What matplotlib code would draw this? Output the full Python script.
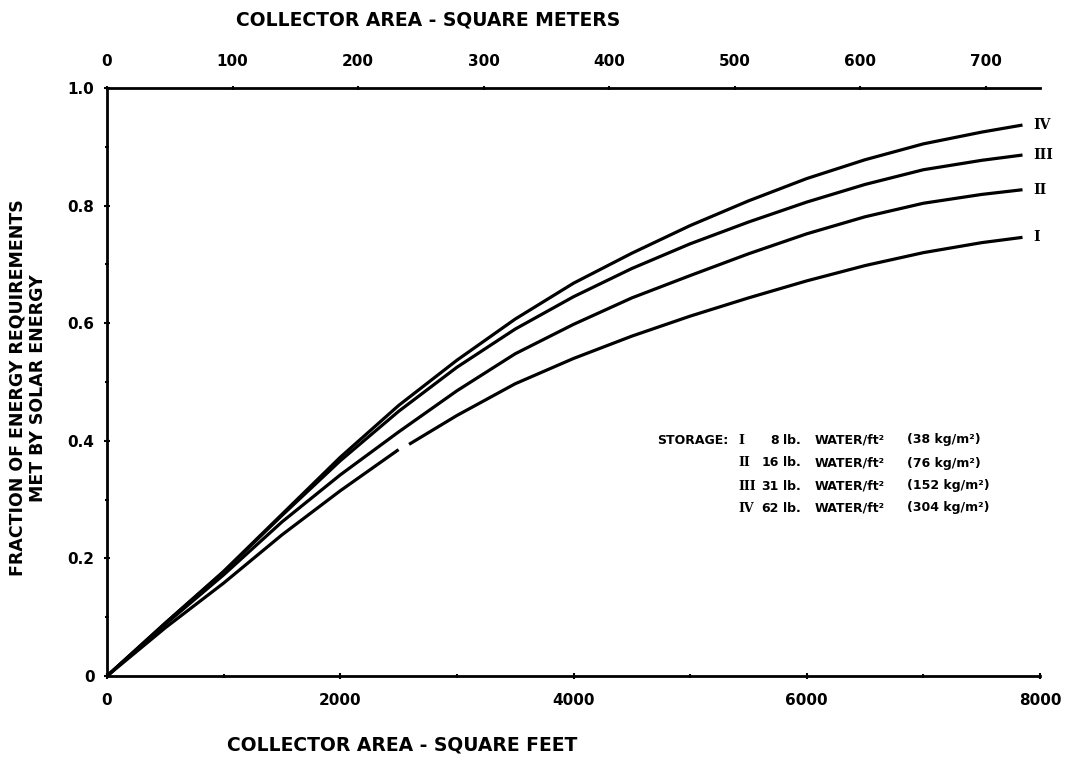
import matplotlib
matplotlib.use("Agg")
import matplotlib.pyplot as plt
import numpy as np

# collector area in square feet
area_ft2 = [0, 500, 1000, 1500, 2000, 2500, 3000, 3500, 4000, 4500,
            5000, 5500, 6000, 6500, 7000, 7500, 7850]

frac_IV = [0, 0.090, 0.178, 0.275, 0.372, 0.460, 0.537, 0.607, 0.668, 0.719,
           0.766, 0.808, 0.846, 0.878, 0.905, 0.925, 0.937]
frac_III = [0, 0.090, 0.177, 0.273, 0.366, 0.450, 0.525, 0.590, 0.645, 0.693,
            0.735, 0.772, 0.806, 0.836, 0.861, 0.877, 0.886]
frac_II = [0, 0.088, 0.172, 0.262, 0.342, 0.415, 0.485, 0.548, 0.598, 0.643,
           0.681, 0.718, 0.752, 0.781, 0.804, 0.819, 0.827]

# curve I has a small break in the original drawing
area_I = [0, 500, 1000, 1500, 2000, 2500, 2520, 2590, 3000, 3500, 4000, 4500,
          5000, 5500, 6000, 6500, 7000, 7500, 7850]
frac_I = [0, 0.082, 0.158, 0.240, 0.315, 0.385, np.nan, 0.394, 0.443, 0.497,
          0.540, 0.578, 0.612, 0.643, 0.672, 0.698, 0.720, 0.737, 0.746]

curve_names = ["IV", "III", "II", "I"]
storage_lb = ["8", "16", "31", "62"]
storage_kg = ["(38 kg/m²)", "(76 kg/m²)", "(152 kg/m²)", "(304 kg/m²)"]
legend_num = ["I", "II", "III", "IV"]

x_ticks = [0, 2000, 4000, 6000, 8000]
y_ticks = [0, 0.2, 0.4, 0.6, 0.8, 1.0]
y_ticklabels = ["0", "0.2", "0.4", "0.6", "0.8", "1.0"]
m2_ticks = [0, 100, 200, 300, 400, 500, 600, 700]

FT2_PER_M2 = 10.764

W, H = 1065, 757
fig = plt.figure(figsize=(W / 100, H / 100), dpi=100)
ax = fig.add_axes([107 / W, 1 - 676 / H, (1040 - 107) / W, (676 - 88) / H])

lw = 2.3
for xs, ys in [(area_ft2, frac_IV), (area_ft2, frac_III), (area_ft2, frac_II), (area_I, frac_I)]:
    ax.plot(xs, ys, color="black", lw=lw, solid_capstyle="butt", solid_joinstyle="round")

ax.set_xlim(0, 8000)
ax.set_ylim(0, 1.0)

for s in ["left", "bottom", "top"]:
    ax.spines[s].set_linewidth(2.0)
ax.spines["right"].set_visible(False)

ax.set_xticks(x_ticks)
ax.set_xticks(np.arange(1000, 8000, 2000), minor=True)
ax.set_yticks(y_ticks)
ax.set_yticklabels(y_ticklabels)
ax.set_yticks(np.arange(0.1, 1.0, 0.2), minor=True)
ax.tick_params(axis="both", which="major", length=4, width=1.5, direction="inout",
               labelsize=11, pad=7)
ax.tick_params(axis="both", which="minor", length=3, width=1.5, direction="inout")
ax.tick_params(axis="x", which="major", pad=10)
for lab in ax.get_xticklabels() + ax.get_yticklabels():
    lab.set_fontweight("bold")

sec = ax.secondary_xaxis("top", functions=(lambda x: x / FT2_PER_M2, lambda m: m * FT2_PER_M2))
sec.set_xticks(m2_ticks)
sec.spines["top"].set_visible(False)
sec.tick_params(length=3, width=1.5, direction="inout", labelsize=11, pad=12)
for lab in sec.get_xticklabels():
    lab.set_fontweight("bold")

fig.text(402 / W, 1 - 745 / H, "COLLECTOR AREA - SQUARE FEET", ha="center", va="center",
         fontsize=13.5, fontweight="bold")
fig.text(428 / W, 1 - 20 / H, "COLLECTOR AREA - SQUARE METERS", ha="center", va="center",
         fontsize=13.5, fontweight="bold")
fig.text(28 / W, 1 - 388 / H, "FRACTION OF ENERGY REQUIREMENTS\nMET BY SOLAR ENERGY",
         ha="center", va="center", rotation=90, fontsize=12.5, fontweight="bold",
         linespacing=1.2, multialignment="center")

# labels at curve ends
end_vals = [frac_IV[-1], frac_III[-1], frac_II[-1], frac_I[-1]]
for name, v in zip(curve_names, end_vals):
    ax.annotate(name, xy=(area_ft2[-1], v), xytext=(8, 0), textcoords="offset points",
                ha="left", va="center", fontsize=10, fontweight="bold",
                family="DejaVu Serif", annotation_clip=False)

# storage key
fs = 9
fig.text(657 / W, 1 - 440 / H, "STORAGE:", ha="left", va="center", fontsize=fs, fontweight="bold")
row_y = [440, 463, 486, 508]
for i in range(4):
    y = 1 - row_y[i] / H
    fig.text(738 / W, y, legend_num[i], ha="left", va="center", fontsize=fs,
             fontweight="bold", family="DejaVu Serif")
    fig.text(779 / W, y, storage_lb[i], ha="right", va="center", fontsize=fs, fontweight="bold")
    fig.text(783 / W, y, "lb.", ha="left", va="center", fontsize=fs, fontweight="bold")
    fig.text(815 / W, y, "WATER/ft²", ha="left", va="center", fontsize=fs, fontweight="bold")
    fig.text(907 / W, y, storage_kg[i], ha="left", va="center", fontsize=fs, fontweight="bold")

fig.savefig("out.png", dpi=100)
